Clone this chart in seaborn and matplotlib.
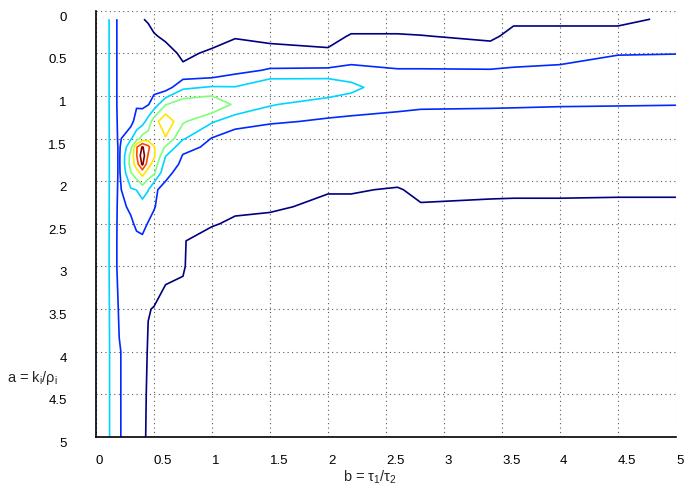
import numpy as np
import matplotlib
matplotlib.use("Agg")
import matplotlib.pyplot as plt
import seaborn as sns

# grid coordinates
b_vals = [0.0, 0.1, 0.2, 0.3, 0.35, 0.4, 0.45, 0.5, 0.6, 0.75, 1.0, 1.2,
          1.5, 2.0, 2.2, 2.6, 2.8, 3.4, 3.6, 4.0, 4.5, 5.0]
a_vals = [0.1, 0.3, 0.5, 0.7, 0.9, 1.1, 1.3, 1.5, 1.6, 1.7, 1.8, 1.9,
          2.1, 2.3, 2.5, 2.7, 3.0, 3.5, 4.0, 4.5, 5.0]

# field values, one list per b column (values along a_vals)
z_b000 = [3.6, 3.6, 3.6, 3.6, 3.6, 3.6, 3.6, 3.6, 3.6, 3.6, 3.6, 3.6, 3.6, 3.6, 3.6, 3.6, 3.6, 3.6, 3.6, 3.6, 3.6]
z_b010 = [3.2, 3.2, 3.2, 3.2, 3.2, 3.2, 3.2, 3.2, 3.2, 3.2, 3.2, 3.2, 3.2, 3.2, 3.2, 3.2, 3.2, 3.2, 3.2, 3.2, 3.2]
z_b020 = [1.7, 1.7, 1.7, 1.7, 1.7, 1.7, 1.75, 1.8, 1.85, 1.85, 1.85, 1.85, 1.8, 1.75, 1.72, 1.7, 1.7, 1.9, 2.05, 2.05, 2.05]
z_b030 = [1.5, 1.55, 1.6, 1.65, 1.7, 1.8, 1.6, 2.9, 3.7, 4.3, 4.35, 3.95, 2.9, 2.15, 1.85, 1.75, 1.72, 1.72, 1.7, 1.7, 1.7]
z_b035 = [1.3, 1.4, 1.5, 1.6, 1.7, 1.85, 2.5, 3.5, 5.9, 5.95, 5.5, 4.6, 3.02, 2.45, 2.15, 1.8, 1.6, 1.45, 1.4, 1.35, 1.35]
z_b040 = [1.02, 1.3, 1.45, 1.55, 1.65, 1.8, 2.6, 4.4, 7.1, 7.6, 7.2, 5.4, 3.5, 2.6, 2.25, 1.85, 1.5, 1.3, 1.25, 1.2, 1.2]
z_b045 = [0.95, 1.15, 1.35, 1.5, 1.65, 1.95, 3.4, 4.5, 6.3, 5.9, 5.4, 4.6, 3.05, 2.4, 1.95, 1.6, 1.4, 1.02, 0.95, 0.9, 0.85]
z_b050 = [0.8, 1.05, 1.3, 1.5, 1.7, 2.4, 4.5, 4.6, 5.05, 5.2, 4.6, 4.2, 2.1, 2.05, 1.8, 1.6, 1.3, 0.98, 0.8, 0.7, 0.6]
z_b060 = [0.7, 0.9, 1.2, 1.35, 1.5, 3.95, 5.8, 4.9, 3.9, 3.05, 2.6, 2.2, 1.8, 1.6, 1.5, 1.4, 1.15, 0.8, 0.7, 0.6, 0.5]
z_b075 = [0.5, 0.7, 0.9, 1.1, 2.8, 4.6, 4.13, 3.1, 2.3, 1.95, 1.8, 1.7, 1.6, 1.5, 1.3, 1.03, 1.03, 0.9, 0.7, 0.6, 0.5]
z_b100 = [0.6, 0.8, 1.08, 1.15, 3.1, 4.9, 3.1, 1.95, 1.8, 1.7, 1.6, 1.55, 1.45, 1.3, 1.05, 0.75, 0.65, 0.55, 0.45, 0.4, 0.35]
z_b120 = [0.7, 0.95, 1.3, 1.7, 3.05, 3.8, 2.47, 1.43, 1.42, 1.4, 1.38, 1.36, 1.3, 1.12, 0.9, 0.8, 0.7, 0.55, 0.45, 0.4, 0.35]
z_b150 = [0.6, 0.85, 1.2, 2.1, 3.9, 3.1, 2.1, 1.43, 1.4, 1.37, 1.35, 1.32, 1.2, 1.1, 0.8, 0.7, 0.6, 0.5, 0.4, 0.35, 0.3]
z_b200 = [0.6, 0.8, 1.1, 2.15, 3.9, 2.4, 1.9, 1.6, 1.55, 1.5, 1.45, 1.4, 1.05, 0.85, 0.8, 0.7, 0.6, 0.5, 0.4, 0.35, 0.3]
z_b220 = [0.7, 1.05, 1.4, 2.3, 3.3, 2.4, 1.8, 1.6, 1.55, 1.5, 1.45, 1.35, 1.05, 0.85, 0.8, 0.7, 0.6, 0.5, 0.4, 0.35, 0.3]
z_b260 = [0.7, 1.05, 1.5, 2.05, 2.2, 2.15, 1.8, 1.6, 1.55, 1.5, 1.4, 1.3, 0.95, 0.85, 0.8, 0.7, 0.6, 0.5, 0.4, 0.35, 0.3]
z_b280 = [0.7, 1.02, 1.5, 2.05, 2.6, 2.08, 1.8, 1.6, 1.55, 1.5, 1.4, 1.3, 1.15, 0.95, 0.8, 0.7, 0.6, 0.5, 0.4, 0.35, 0.3]
z_b340 = [0.7, 0.9, 1.25, 2.05, 2.4, 2.06, 1.8, 1.6, 1.55, 1.5, 1.4, 1.3, 1.12, 0.9, 0.8, 0.7, 0.6, 0.5, 0.4, 0.35, 0.3]
z_b360 = [0.9, 1.15, 1.55, 2.1, 2.4, 2.05, 1.8, 1.6, 1.55, 1.5, 1.4, 1.3, 1.1, 0.9, 0.8, 0.7, 0.6, 0.5, 0.4, 0.35, 0.3]
z_b400 = [0.9, 1.15, 1.6, 2.2, 2.45, 2.03, 1.8, 1.6, 1.55, 1.5, 1.4, 1.3, 1.1, 0.9, 0.8, 0.7, 0.6, 0.5, 0.4, 0.35, 0.3]
z_b450 = [0.9, 1.15, 1.95, 2.4, 2.5, 2.02, 1.8, 1.6, 1.55, 1.5, 1.4, 1.3, 1.08, 0.9, 0.8, 0.7, 0.6, 0.5, 0.4, 0.35, 0.3]
z_b500 = [1.08, 1.5, 1.98, 2.4, 2.5, 2.01, 1.8, 1.6, 1.55, 1.5, 1.4, 1.3, 1.08, 0.9, 0.8, 0.7, 0.6, 0.5, 0.4, 0.35, 0.3]

levels = [1, 2, 3, 4, 5, 6, 7]
tick_vals = [0, 0.5, 1, 1.5, 2, 2.5, 3, 3.5, 4, 4.5, 5]
tick_labels = ["0", "0.5", "1", "1.5", "2", "2.5", "3", "3.5", "4", "4.5", "5"]

columns = [z_b000, z_b010, z_b020, z_b030, z_b035, z_b040, z_b045, z_b050,
           z_b060, z_b075, z_b100, z_b120, z_b150, z_b200, z_b220, z_b260,
           z_b280, z_b340, z_b360, z_b400, z_b450, z_b500]
Z = np.array(columns).T

sns.set_style("white")
plt.rcParams["font.family"] = ["Liberation Sans", "DejaVu Sans"]
plt.rcParams["mathtext.fontset"] = "custom"
plt.rcParams["mathtext.rm"] = "Liberation Sans"
plt.rcParams["mathtext.it"] = "Liberation Sans"

fig = plt.figure(figsize=(6.88, 4.85), dpi=100)
ax = fig.add_axes([0.1395, 0.097, 0.843, 0.879])

ax.contour(b_vals, a_vals, Z, levels=levels, cmap="jet",
           vmin=levels[0], vmax=levels[-1], linewidths=1.2)

ax.set_xlim(0, 5)
ax.set_ylim(5, 0)
ax.set_xticks(tick_vals)
ax.set_xticklabels(tick_labels, ha="left")
ax.set_yticks(tick_vals)
ax.set_yticklabels(tick_labels, va="top")

ax.set_axisbelow(True)
ax.grid(True, linestyle=(0, (1, 3)), color="0.35", linewidth=0.8)
for s in ["top", "right"]:
    ax.spines[s].set_visible(False)
for s in ["left", "bottom"]:
    ax.spines[s].set_color("black")
    ax.spines[s].set_linewidth(1.2)

ax.tick_params(axis="y", direction="out", length=16, width=1.2, pad=5,
               labelsize=9.5, colors="black")
ax.tick_params(axis="x", direction="out", length=10, width=1.2, pad=2,
               labelsize=9.5, colors="black")

fig.text(33 / 688, 1 - 378 / 485, r"a = k$_\mathrm{i}$/ρ$_\mathrm{i}$",
         ha="center", va="center", fontsize=10.5)
fig.text(370 / 688, 1 - 477 / 485, r"b = τ$_\mathrm{1}$/τ$_\mathrm{2}$",
         ha="center", va="center", fontsize=10.5)

fig.savefig("out.png", dpi=100)
